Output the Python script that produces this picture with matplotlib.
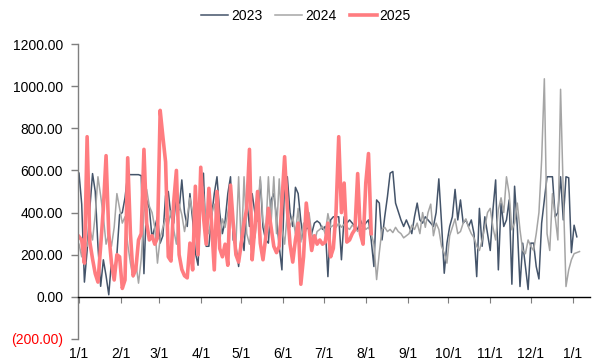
import matplotlib
matplotlib.use('Agg')
from matplotlib import pyplot as plt
import numpy as np

plt.rcParams['font.family'] = ['Liberation Sans', 'DejaVu Sans']
plt.rcParams['font.size'] = 10

# values sampled every 2 days, starting 1/1
step_days = 2

values_2023 = [
    587, 440, 70, 220, 420, 585, 500, 240, 50, 176, 100, 10, 170, 120, 200, 390,
    400, 470, 580, 580, 580, 580, 580, 575, 110, 460, 420, 280, 330, 380, 255,
    290, 480, 500, 380, 350, 490, 413, 555, 400, 334, 490, 365, 210, 150, 440,
    587, 240, 240, 380, 490, 570, 400, 300, 360, 490, 570, 270, 240, 144, 300,
    220, 460, 334, 490, 400, 360, 555, 330, 270, 255, 460, 490, 380, 240, 128,
    555, 570, 400, 334, 520, 490, 360, 270, 330, 320, 300, 350, 360, 350, 320,
    334, 96, 365, 380, 380, 380, 176, 380, 350, 365, 350, 334, 320, 365, 334,
    350, 365, 270, 144, 460, 445, 270, 380, 475, 587, 595, 445, 405, 365, 334,
    365, 334, 300, 380, 445, 365, 350, 380, 365, 350, 334, 400, 560, 350, 112,
    255, 334, 380, 510, 365, 460, 350, 365, 334, 365, 300, 96, 420, 240, 380,
    300, 220, 413, 555, 128, 445, 334, 365, 460, 60, 525, 334, 49, 255, 144,
    35, 255, 255, 144, 85, 350, 460, 570, 570, 570, 380, 400, 570, 365, 570,
    565, 210, 340, 285,
]

values_2024 = [
    250, 190, 280, 240, 320, 270, 390, 570, 480, 380, 250, 300, 240, 330, 490,
    420, 350, 380, 250, 160, 95, 160, 65, 180, 400, 510, 430, 400, 330, 160, 280,
    330, 370, 340, 410, 320, 250, 440, 390, 310, 380, 470, 400, 320, 380, 410,
    490, 340, 300, 390, 440, 350, 260, 370, 330, 400, 480, 330, 250, 570, 220,
    570, 300, 250, 350, 280, 400, 570, 360, 300, 570, 350, 570, 300, 560, 330,
    250, 400, 330, 380, 300, 420, 260, 350, 330, 400, 300, 260, 310,
    320, 335, 300, 395, 330, 340, 330, 350, 330, 345, 330, 320, 340, 330, 310,
    330, 345, 320, 330, 300, 250, 82, 210, 320, 330, 310, 320, 305, 330, 310,
    300, 280, 290,
    300, 340, 320, 350, 300, 400, 330, 400, 440, 290, 350, 320, 240, 207, 160,
    290, 330, 370, 300, 310, 350, 370, 330, 300, 280, 240, 220, 270, 330, 400,
    420, 330, 270,
    413, 470, 400, 570, 490, 318, 350, 445, 318, 220, 205, 270, 240, 220, 300,
    400, 650, 1035, 300, 220, 490, 380, 270, 985, 490, 49, 128, 176, 205, 210,
    215,
]

values_2025 = [
    286, 270, 160, 760, 260, 180, 110, 70, 240, 420, 670, 300, 160, 80, 200, 190,
    40, 80, 660, 300, 100, 130, 270, 300, 700, 350, 270, 290, 250, 280, 885,
    760, 640, 190, 170, 450, 600, 200, 130, 100, 90, 255, 128, 525, 200, 615,
    380, 250, 515, 350, 128, 500, 230, 190, 250, 150, 530, 350, 200, 165, 255,
    350, 420, 700, 176, 330, 500, 255, 176, 280, 420, 330, 240, 210, 240, 450,
    665, 420, 250, 165, 270, 350, 60, 190, 445, 330, 220, 290, 250, 270, 250,
    260, 350, 190, 230, 400, 760, 400, 540, 260, 270, 300, 320, 585, 300, 250,
    540, 680, 300,
]

series_names = ['2023', '2024', '2025']
series_colors = ['#44546A', '#A5A5A5', '#FF7C80']
series_widths = [1.1, 1.1, 2.6]

month_labels = ['1/1', '2/1', '3/1', '4/1', '5/1', '6/1', '7/1',
                '8/1', '9/1', '10/1', '11/1', '12/1', '1/1']
month_days = [0, 31, 59, 90, 120, 151, 181, 212, 243, 273, 304, 334, 365]

y_ticks = [-200, 0, 200, 400, 600, 800, 1000, 1200]


def fmt(v):
    if v < 0:
        return '({:.2f})'.format(abs(v))
    return '{:.2f}'.format(v)


fig = plt.figure(figsize=(6.14, 3.64), dpi=100)
ax = fig.add_axes([0.1278, 0.0687, 0.833, 0.8104])

for vals, name, color, lw in zip([values_2023, values_2024, values_2025],
                                 series_names, series_colors, series_widths):
    days = np.arange(len(vals)) * step_days
    ax.plot(days, vals, color=color, linewidth=lw, label=name,
            solid_joinstyle='round')

ax.set_xlim(-0.4, 377.7)
ax.set_ylim(-200, 1200)

for side in ['top', 'right']:
    ax.spines[side].set_visible(False)
ax.spines['left'].set_color('#7F7F7F')
ax.spines['left'].set_linewidth(1.0)
ax.spines['bottom'].set_position(('data', 0))
ax.spines['bottom'].set_color('black')
ax.spines['bottom'].set_linewidth(1.0)

ax.set_yticks(y_ticks)
ax.set_yticklabels([fmt(v) for v in y_ticks])
for label, v in zip(ax.get_yticklabels(), y_ticks):
    if v < 0:
        label.set_color('red')
ax.tick_params(axis='y', direction='out', length=5, width=1.0,
               color='#7F7F7F', pad=6)

ax.set_xticks(month_days)
ax.tick_params(axis='x', direction='out', length=4.5, width=0.8,
               color='#7F7F7F', labelbottom=False)

sec = ax.secondary_xaxis('bottom')
sec.set_xticks(month_days)
sec.set_xticklabels(month_labels)
sec.tick_params(length=0, pad=6)
sec.spines['bottom'].set_visible(False)

fig.legend(loc='center', bbox_to_anchor=(0.498, 0.956), ncol=3,
           frameon=False, handlelength=1.95, handletextpad=0.2,
           columnspacing=0.95, fontsize=10)

fig.savefig('out.png', dpi=100)
